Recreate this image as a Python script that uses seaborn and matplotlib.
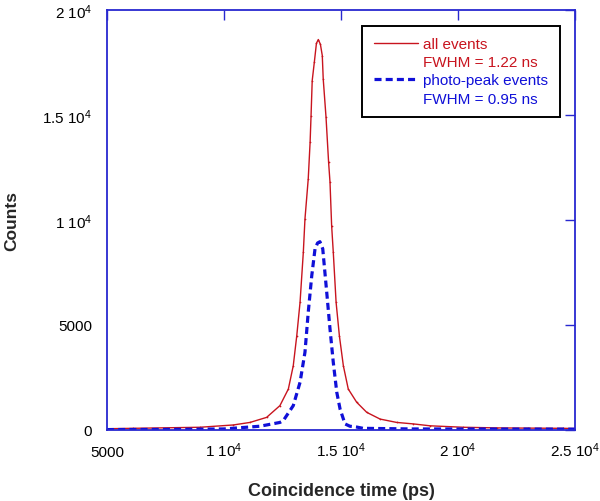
import matplotlib
matplotlib.use("Agg")
import matplotlib.pyplot as plt
import seaborn as sns
import pandas as pd
from matplotlib.lines import Line2D

# ---- data ----
all_time = [5000, 6100, 8970, 10400, 11110, 11820, 12390, 12750, 12960, 13110,
            13250, 13390, 13460, 13600, 13680, 13720, 13770, 13860, 13950, 14030,
            14120, 14200, 14240, 14360, 14470, 14530, 14600, 14670, 14790, 14930,
            15100, 15310, 15670, 16100, 16670, 17380, 18090, 18800, 20230, 21650,
            23000, 24490, 25000]
all_counts = [60, 80, 130, 240, 360, 600, 1160, 1950, 3060, 4490,
              6080, 8460, 10040, 11950, 13700, 14960, 16630, 17500, 18400, 18580,
              18350, 17820, 16710, 14880, 12740, 11790, 9720, 8460, 6080, 4490,
              3060, 1950, 1320, 840, 520, 360, 290, 200, 130, 100,
              90, 80, 70]

pp_time = [5000, 8000, 10000, 11540, 12390, 12530, 12960, 13250, 13460, 13600,
           13750, 13890, 14000, 14100, 14220, 14390, 14530, 14670, 14820, 14960,
           15170, 15380, 15670, 15940, 18000, 25000]
pp_counts = [20, 30, 50, 180, 360, 440, 1160, 2270, 3700, 5600,
             7340, 8620, 8900, 8960, 8620, 6550, 4810, 3220, 1790, 1000,
             290, 180, 140, 80, 50, 40]

x_ticks = [5000, 10000, 15000, 20000, 25000]
x_ticklabels = ["5000", "1 10$^{4}$", "1.5 10$^{4}$", "2 10$^{4}$", "2.5 10$^{4}$"]
y_ticks = [0, 5000, 10000, 15000, 20000]
y_ticklabels = ["0", "5000", "1 10$^{4}$", "1.5 10$^{4}$", "2 10$^{4}$"]

legend_labels = ["all events", "FWHM = 1.22 ns", "photo-peak events", "FWHM = 0.95 ns"]

# ---- style ----
sns.set_style("white")
plt.rcParams["font.family"] = ["Liberation Sans", "DejaVu Sans"]
plt.rcParams["mathtext.fontset"] = "custom"
plt.rcParams["mathtext.rm"] = "Liberation Sans"
plt.rcParams["mathtext.it"] = "Liberation Sans:italic"
plt.rcParams["mathtext.bf"] = "Liberation Sans:bold"

RED = "#C8141E"
BLUE = "#1010D8"
SPINE = "#2828D0"

fig = plt.figure(figsize=(6.0, 5.02), dpi=100)
ax = fig.add_axes([107 / 600, 71 / 502, 468 / 600, 420.3 / 502])

df_all = pd.DataFrame({"time": all_time, "counts": all_counts})
df_pp = pd.DataFrame({"time": pp_time, "counts": pp_counts})

sns.lineplot(data=df_all, x="time", y="counts", ax=ax, color=RED, linewidth=1.0,
             marker=".", markersize=2.5, markeredgewidth=0, estimator=None, sort=False)
sns.lineplot(data=df_pp, x="time", y="counts", ax=ax, color=BLUE, linewidth=2.3,
             estimator=None, sort=False, dashes=False)
ax.lines[1].set_dashes([2.2, 1.3])

ax.set_xlim(5000, 25000)
ax.set_ylim(0, 20000)
ax.set_xticks(x_ticks)
ax.set_xticklabels(x_ticklabels, va="baseline")
ax.set_yticks(y_ticks)
ax.set_yticklabels(y_ticklabels)
ax.tick_params(direction="in", length=7, width=1, color=SPINE, labelsize=11,
               top=True, right=True, labelcolor="black")
ax.tick_params(axis="x", pad=18.7)
ax.tick_params(axis="y", pad=10.8)
for s in ax.spines.values():
    s.set_color(SPINE)
    s.set_linewidth(1.3)
    s.set_visible(True)

ax.set_xlabel("Coincidence time (ps)", fontsize=13, fontweight="bold", labelpad=16.5)
ax.set_ylabel("Counts", fontsize=12.5, fontweight="bold", labelpad=16.5)

# legend
h_red = Line2D([], [], color=RED, linewidth=1.0)
h_blue = Line2D([], [], color=BLUE, linewidth=2.3, dashes=[2.2, 1.3])
h_none = Line2D([], [], color="none")
leg = ax.legend([h_red, h_none, h_blue, h_none], legend_labels,
                loc="upper left", bbox_to_anchor=(0.545, 0.962),
                fontsize=11, frameon=True, fancybox=False, framealpha=1,
                edgecolor="black", handlelength=2.9, handletextpad=0.35,
                labelspacing=0.27, borderpad=0.75, borderaxespad=0,
                labelcolor=[RED, RED, BLUE, BLUE])
leg.get_frame().set_linewidth(1.4)

fig.savefig("out.png", dpi=100)
